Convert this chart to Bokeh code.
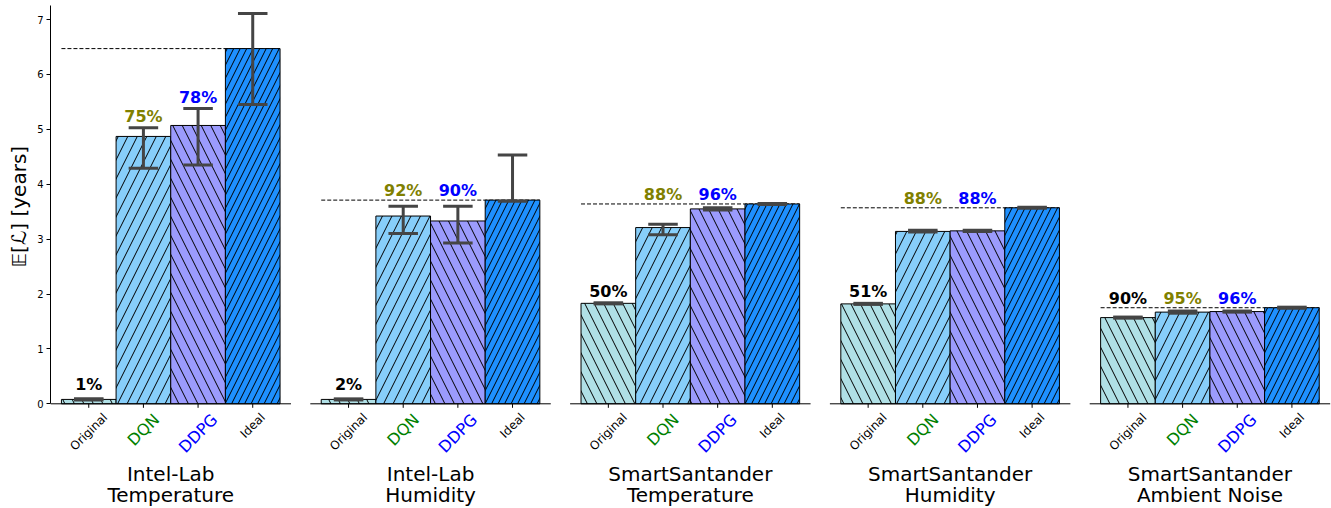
import math
from bokeh.plotting import figure
from bokeh.models import Range1d, FixedTicker, ColumnDataSource, Title
from bokeh.core.properties import value
from bokeh.embed import file_html
from bokeh.resources import INLINE

# ---------------- data ----------------
dataset_line1 = ["Intel-Lab", "Intel-Lab", "SmartSantander", "SmartSantander", "SmartSantander"]
dataset_line2 = ["Temperature", "Humidity", "Temperature", "Humidity", "Ambient Noise"]
methods = ["Original", "DQN", "DDPG", "Ideal"]

original_mean = [0.08, 0.08, 1.83, 1.82, 1.57]
original_low = [0.07, 0.07, 1.82, 1.81, 1.56]
original_high = [0.09, 0.09, 1.84, 1.83, 1.58]

dqn_mean = [4.87, 3.42, 3.21, 3.14, 1.67]
dqn_low = [4.29, 3.10, 3.08, 3.13, 1.65]
dqn_high = [5.03, 3.60, 3.27, 3.16, 1.69]

ddpg_mean = [5.07, 3.33, 3.55, 3.15, 1.68]
ddpg_low = [4.35, 2.93, 3.53, 3.14, 1.67]
ddpg_high = [5.38, 3.60, 3.57, 3.16, 1.69]

ideal_mean = [6.47, 3.71, 3.64, 3.57, 1.75]
ideal_low = [5.45, 3.69, 3.63, 3.56, 1.74]
ideal_high = [7.11, 4.53, 3.65, 3.58, 1.76]

original_pct = ["1%", "2%", "50%", "51%", "90%"]
dqn_pct = ["75%", "92%", "88%", "88%", "95%"]
ddpg_pct = ["78%", "90%", "96%", "88%", "96%"]

y_ticks = [0, 1, 2, 3, 4, 5, 6, 7]
y_label = "𝔼[ℒ] [years]"

# ---------------- layout / style ----------------
FONT = value("DejaVu Sans")
PX_X = 54.7          # pixels per x unit
PX_Y = 54.9          # pixels per y unit
BASE = 403.3         # page y of the value 0
PITCH = 260.0 / PX_X # distance between panels (x units)
X0 = -0.7
FIG_W, FIG_H = 1331, 508
BORDER_L, BORDER_T = 49, 5
X1 = X0 + (FIG_W - BORDER_L) / PX_X
Y1 = (BASE - BORDER_T) / PX_Y
Y0 = -(FIG_H - BASE) / PX_Y


def page_y(py):
    return (BASE - py) / PX_Y


series = {
    "Original": (original_mean, original_low, original_high, "#b0e0e6", "\\", 19),
    "DQN": (dqn_mean, dqn_low, dqn_high, "#87cefa", "/", 19),
    "DDPG": (ddpg_mean, ddpg_low, ddpg_high, "#9b9bfd", "\\", 19),
    "Ideal": (ideal_mean, ideal_low, ideal_high, "#1e90ff", "/", 13),
}
tick_style = {
    "Original": (12, "black"),
    "DQN": (16, "#008000"),
    "DDPG": (16, "#0000ff"),
    "Ideal": (12, "black"),
}
pct_colors = ["black", "#808000", "#0000ff"]

# approximate DejaVu Sans advance widths (em)
CW = {"O": .787, "r": .411, "i": .278, "g": .635, "n": .634, "a": .613, "l": .278,
      "D": .770, "Q": .787, "N": .748, "P": .603, "G": .775, "I": .295, "d": .635, "e": .615}


def text_w(s, size):
    return sum(CW.get(c, .6) for c in s) * size


n_sets = len(dataset_line1)
offsets = [k * PITCH for k in range(n_sets)]

p = figure(width=FIG_W, height=FIG_H, x_range=Range1d(X0, X1), y_range=Range1d(Y0, Y1),
           output_backend="svg", toolbar_location=None, x_axis_location=None,
           min_border_left=BORDER_L, min_border_right=0, min_border_top=BORDER_T, min_border_bottom=0)
p.grid.visible = False
p.outline_line_color = None
p.background_fill_color = "white"

# y axis (first panel only)
ax = p.yaxis[0]
ax.bounds = (0, Y1)
ax.ticker = FixedTicker(ticks=y_ticks)
ax.minor_tick_line_color = None
ax.major_tick_in = 0
ax.major_tick_out = 4
ax.major_label_standoff = 3
ax.major_label_text_font = "DejaVu Sans"
ax.major_label_text_font_size = "10px"
ax.major_label_text_color = "black"
ax.axis_line_color = "black"
ax.major_tick_line_color = "black"

# y axis title: a side title, shifted up so it is centred on the value axis
p.add_layout(Title(text=y_label, align="left", offset=FIG_H - 267, standoff=8,
                   text_font="DejaVu Sans", text_font_size="20px", text_font_style="normal",
                   text_color="black"), "left")

# dashed reference line at the ideal value
p.segment(x0=[o - 0.5 for o in offsets], y0=ideal_mean, x1=[o + 3.5 for o in offsets], y1=ideal_mean,
          line_color="black", line_width=1, line_dash="4 2")

# bars
for j, m in enumerate(methods):
    mean, lo, hi, col, hatch, hscale = series[m]
    xs = [o + j for o in offsets]
    p.vbar(x=xs, top=mean, bottom=0, width=1.0, fill_color=col, line_color="black", line_width=1,
           hatch_pattern=hatch, hatch_color="black", hatch_scale=hscale, hatch_weight=1)

# error bars
EB = "#454545"
for j, m in enumerate(methods):
    mean, lo, hi = series[m][:3]
    xs = [o + j for o in offsets]
    p.segment(x0=xs, y0=lo, x1=xs, y1=hi, line_color=EB, line_width=3)
    for ends in (lo, hi):
        p.segment(x0=[x - 0.27 for x in xs], y0=ends, x1=[x + 0.27 for x in xs], y1=ends,
                  line_color=EB, line_width=3)

# bottom spines and ticks
p.segment(x0=[o + X0 for o in offsets], y0=0, x1=[o + 3.7 for o in offsets], y1=0,
          line_color="black", line_width=1)
tick_x = [o + j for o in offsets for j in range(len(methods))]
p.segment(x0=tick_x, y0=0, x1=tick_x, y1=-4 / PX_Y, line_color="black", line_width=1)

# rotated category labels
lab = dict(x=[], y=[], text=[], size=[], color=[])
for o in offsets:
    for j, m in enumerate(methods):
        size, color = tick_style[m]
        w = text_w(m, size)
        h = 1.05 * size
        cy = BASE + 7.0 + (w + h) * math.sin(math.pi / 4) / 2
        lab["x"].append(o + j)
        lab["y"].append(page_y(cy))
        lab["text"].append(m)
        lab["size"].append(f"{size}px")
        lab["color"].append(color)
p.text(x="x", y="y", text="text", source=ColumnDataSource(lab), angle=math.pi / 4,
       text_align="center", text_baseline="middle", text_font=FONT,
       text_font_size="size", text_color="color")

# percentage labels (anchored at the middle of the text)
pct = dict(x=[], y=[], text=[], color=[])
for k, o in enumerate(offsets):
    for j, (labels, m) in enumerate(zip([original_pct, dqn_pct, ddpg_pct], methods[:3])):
        hi = series[m][2][k]
        ideal = ideal_mean[k]
        yl = max(hi + 0.12, 0.27)
        if yl < ideal + 0.08 and yl + 0.3 > ideal:
            yl = ideal + 0.08
        pct["x"].append(o + j)
        pct["y"].append(yl + 0.3 * 16 / PX_Y)
        pct["text"].append(labels[k])
        pct["color"].append(pct_colors[j])
p.text(x="x", y="y", text="text", source=ColumnDataSource(pct), text_align="center",
       text_baseline="middle", text_font=FONT, text_font_size="16px",
       text_font_style="bold", text_color="color")

# dataset titles
ttl = dict(x=[], y=[], text=[])
for k, o in enumerate(offsets):
    cx = o + 1.5
    ttl["x"] += [cx, cx]
    ttl["y"] += [page_y(479 - 6), page_y(500 - 6)]
    ttl["text"] += [dataset_line1[k], dataset_line2[k]]
p.text(x="x", y="y", text="text", source=ColumnDataSource(ttl), text_align="center",
       text_baseline="middle", text_font=FONT, text_font_size="20px", text_color="black")

open("out.html", "w").write(file_html(p, INLINE))
